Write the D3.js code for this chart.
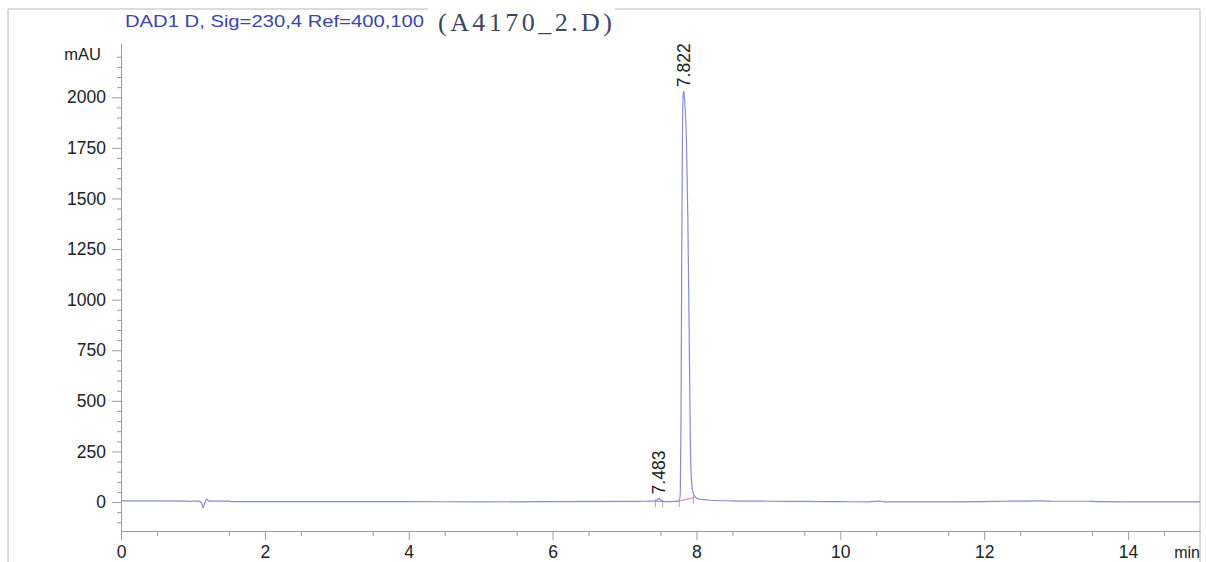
<!DOCTYPE html>
<html>
<head>
<meta charset="utf-8">
<script src="https://cdn.jsdelivr.net/npm/d3@7"></script>
<style>
  html, body { margin: 0; padding: 0; background: #fff; }
  text { font-family: "Liberation Sans", Arial, sans-serif; }
</style>
</head>
<body>
<div id="chart"></div>
<script>
var width = 1206;
var height = 562;

// Chromatogram trace (min, mAU)
var times = [0, 0.5, 0.9, 0.95, 1.0, 1.08, 1.12, 1.14, 1.16, 1.19, 1.22, 1.3, 1.5, 1.55, 2, 3, 4, 5, 6, 7,
    7.3, 7.42, 7.46, 7.483, 7.5, 7.53, 7.6, 7.7, 7.76, 7.775, 7.785, 7.795, 7.805, 7.815, 7.825, 7.84,
    7.86, 7.88, 7.9, 7.915, 7.93, 7.95, 7.98, 8.02, 8.1, 8.2, 8.5, 9, 9.5, 10, 10.4, 10.55, 10.6, 11,
    11.5, 12, 12.3, 12.6, 12.8, 13, 13.4, 13.6, 14, 15];
var signal = [6, 6, 5, 3, 5, 5, -5, -28, -10, 14, 5, 5, 5, 2, 2, 2, 2, 1, 2, 3,
    4, 5, 12, 18, 10, 3, 2, 3, 6, 40, 400, 1200, 1800, 2010, 2030, 1960,
    1800, 1400, 800, 300, 110, 50, 25, 16, 12, 9, 6, 4, 3, 2, 1, 5, 1, 1,
    1, 2, 4, 5, 6, 4, 4, 2, 1, 1];

// Integrated peaks
var peakTimes = [7.483, 7.822];
var peakHeights = [18, 2030];
var baseStart = [7.43, 7.76];
var baseEnd = [7.53, 7.96];
var baseStartVal = [4, 5];
var baseEndVal = [3, 22];

var xTicks = [0, 2, 4, 6, 8, 10, 12, 14];
var yTicks = [0, 250, 500, 750, 1000, 1250, 1500, 1750, 2000];

var titleText = "DAD1 D, Sig=230,4 Ref=400,100";
var fileText = "(A4170_2.D)";

var svg = d3.select("#chart")
    .append("svg")
    .attr("width", width)
    .attr("height", height);

var plotLeft = 121, plotRight = 1200, plotTop = 43, plotBottom = 531;

var x = d3.scaleLinear().domain([0, 15]).range([plotLeft, plotRight]);
var y = d3.scaleLinear().domain([-143, 2268]).range([plotBottom, plotTop]);

// outer frame
var frame = "#b8b8b8";
svg.append("line").attr("x1", 8).attr("x2", 8).attr("y1", 9).attr("y2", height).attr("stroke", frame);
svg.append("line").attr("x1", 1200).attr("x2", 1200).attr("y1", 9).attr("y2", height).attr("stroke", frame);
svg.append("line").attr("x1", 8).attr("x2", 428).attr("y1", 9).attr("y2", 9).attr("stroke", frame);
svg.append("line").attr("x1", 615).attr("x2", 1200).attr("y1", 9).attr("y2", 9).attr("stroke", frame);

// titles
svg.append("text")
    .attr("x", 125).attr("y", 27)
    .attr("font-size", 17)
    .attr("fill", "#3a46a8")
    .attr("textLength", 299)
    .attr("lengthAdjust", "spacingAndGlyphs")
    .text(titleText);

svg.append("text")
    .attr("x", 438).attr("y", 31)
    .attr("font-size", 26)
    .attr("fill", "#3a4662")
    .style("font-family", "'Liberation Serif', 'DejaVu Serif', serif")
    .attr("textLength", 174)
    .attr("lengthAdjust", "spacing")
    .text(fileText);

// axes
var axisColor = "#9c9c9c";

var xAxis = d3.axisBottom(x).tickValues(xTicks).tickSize(9).tickSizeOuter(0).tickPadding(6).tickFormat(d3.format("d"));
svg.append("g").attr("transform", "translate(0," + plotBottom + ")").call(xAxis);
svg.append("g").attr("transform", "translate(0," + plotBottom + ")")
    .call(d3.axisBottom(x).tickValues(d3.range(0.5, 15, 1)).tickSize(5).tickFormat(""))
    .call(function(g) { g.select(".domain").remove(); });

var yAxis = d3.axisLeft(y).tickValues(yTicks).tickSize(9).tickSizeOuter(0).tickPadding(6).tickFormat(d3.format("d"));
svg.append("g").attr("transform", "translate(" + plotLeft + ",0)").call(yAxis);
var yMinor = d3.range(-100, 2251, 50).filter(function(d) { return d % 250 !== 0; });
svg.append("g").attr("transform", "translate(" + plotLeft + ",0)")
    .call(d3.axisLeft(y).tickValues(yMinor).tickSize(4).tickFormat(""))
    .call(function(g) { g.select(".domain").remove(); });

svg.selectAll(".domain, .tick line").attr("stroke", axisColor);
svg.selectAll(".tick text").attr("font-size", 17.5).attr("fill", "#222")
    .style("font-family", "'Liberation Sans', Arial, sans-serif");

svg.append("text").attr("x", 101).attr("y", 60).attr("text-anchor", "end")
    .attr("font-size", 16.5).attr("fill", "#222").text("mAU");
svg.append("text").attr("x", 1200).attr("y", 558).attr("text-anchor", "end")
    .attr("font-size", 16).attr("fill", "#222").text("min");

// integration baselines
peakTimes.forEach(function(p, i) {
    svg.append("line")
        .attr("x1", x(baseStart[i])).attr("y1", y(baseStartVal[i]))
        .attr("x2", x(baseEnd[i])).attr("y2", y(baseEndVal[i]))
        .attr("stroke", "#e07a9a").attr("stroke-width", 1);
    [[baseStart[i], baseStartVal[i]], [baseEnd[i], baseEndVal[i]]].forEach(function(b) {
        svg.append("line")
            .attr("x1", x(b[0])).attr("x2", x(b[0]))
            .attr("y1", y(b[1]) - 2).attr("y2", y(b[1]) + 6)
            .attr("stroke", "#aaa");
    });
});

// trace
var line = d3.line()
    .x(function(d, i) { return x(times[i]); })
    .y(function(d) { return y(d); })
    .curve(d3.curveMonotoneX);

svg.append("path")
    .datum(signal)
    .attr("fill", "none")
    .attr("stroke", "#8a8ad6")
    .attr("stroke-width", 1.2)
    .attr("d", line);

// peak labels
peakTimes.forEach(function(p, i) {
    var px = x(p) + 6, py = y(peakHeights[i]) - 4;
    svg.append("text")
        .attr("transform", "translate(" + px + "," + py + ") rotate(-90)")
        .attr("font-size", 17.5)
        .attr("fill", "#222")
        .text(d3.format(".3f")(p));
});
</script>
</body>
</html>
